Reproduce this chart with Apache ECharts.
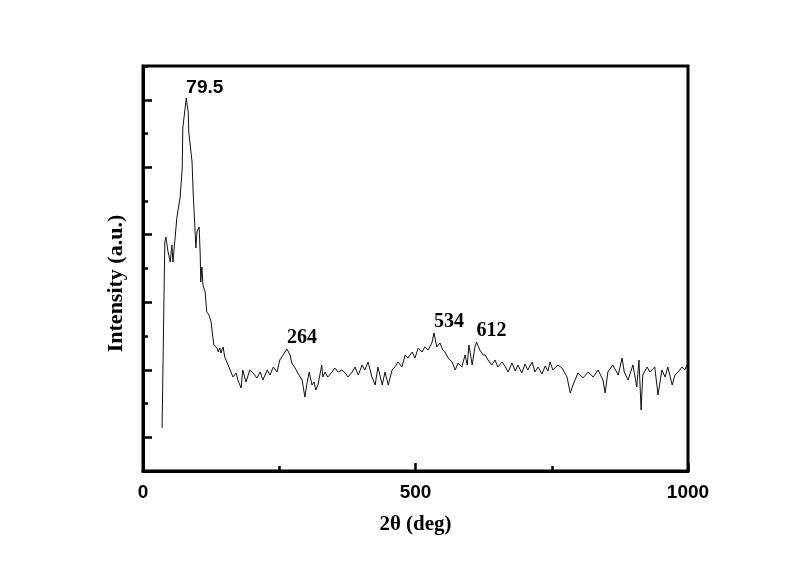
<!DOCTYPE html>
<html>
<head>
<meta charset="utf-8">
<script src="https://cdn.jsdelivr.net/npm/echarts@6/dist/echarts.min.js"></script>
<style>
  html, body { margin: 0; padding: 0; background: #fff; }
  #chart { width: 800px; height: 565px; }
</style>
</head>
<body>
<div id="chart"></div>
<script>
// 2θ positions and intensity (a.u.)
const twoTheta = [
  35, 40, 42, 46, 50, 53, 55, 61, 62, 68, 72, 73, 79.5, 81, 83, 84, 90, 92, 95, 97,
  99, 103, 105, 106, 108, 110, 114, 117, 121, 125, 127, 130, 136, 138, 141, 143, 147, 150, 160, 165,
  171, 174, 180, 183, 189, 196, 202, 209, 215, 220, 228, 233, 239, 246, 251, 257, 264, 270, 273, 279,
  284, 292, 297, 301, 305, 310, 314, 317, 321, 328, 330, 334, 339, 347, 352, 358, 365, 371, 376, 384,
  389, 395, 402, 407, 413, 420, 426, 431, 439, 444, 450, 457, 462, 468, 475, 481, 486, 494, 499, 505,
  512, 517, 523, 530, 534, 539, 545, 550, 554, 560, 567, 573, 578, 585, 591, 595, 598, 604, 609, 612,
  618, 624, 628, 633, 640, 646, 651, 659, 664, 670, 677, 683, 688, 695, 701, 706, 714, 719, 725, 732,
  738, 743, 747, 752, 761, 769, 778, 784, 789, 798, 807, 817, 826, 835, 844, 848, 853, 862, 872, 879,
  883, 890, 899, 906, 910, 914, 917, 925, 930, 939, 945, 952, 958, 963, 971, 976, 982, 989, 994, 998
]
const intensity = [
  43, 229, 234, 219, 209, 226, 209, 246, 253, 273, 303, 343, 373, 366, 359, 339, 309, 279, 246, 223,
  239, 244, 216, 189, 204, 186, 179, 159, 156, 149, 139, 126, 123, 119, 123, 118, 124, 114, 101, 94,
  98, 91, 83, 101, 89, 101, 98, 93, 99, 91, 101, 96, 104, 99, 111, 116, 122, 116, 108, 103,
  98, 91, 74, 88, 99, 86, 89, 81, 86, 106, 94, 99, 94, 99, 103, 99, 101, 98, 94, 99,
  104, 96, 106, 101, 109, 94, 86, 104, 86, 99, 86, 101, 104, 109, 104, 116, 113, 119, 113, 123,
  119, 124, 121, 128, 138, 124, 128, 121, 119, 113, 109, 101, 108, 104, 116, 106, 126, 106, 124, 129,
  121, 116, 116, 111, 106, 111, 104, 109, 105, 99, 108, 100, 106, 98, 107, 101, 109, 99, 104, 97,
  105, 100, 109, 101, 106, 103, 94, 78, 86, 98, 93, 99, 94, 101, 91, 78, 99, 106, 96, 113,
  99, 91, 106, 84, 111, 61, 96, 104, 99, 104, 76, 101, 94, 104, 86, 96, 99, 104, 101, 106
]

// labelled peaks
const peakPos = [79.5, 264, 534, 612]
const peakInt = [373, 122, 138, 129]
const peakText = ['79.5', '264', '534', '612']

const xTicks = ['0', '500', '1000']
const yTickSlots = ['0', '1', '2', '3', '4', '5', '6', '7', '8', '9', '10', '11', '12']

const scan = twoTheta.map((x, i) => [x, intensity[i]])
const peaks = peakPos.map((x, i) => ({
  value: [x, peakInt[i]],
  label: {
    formatter: peakText[i],
    fontFamily: i === 0 ? 'Liberation Sans' : 'Liberation Serif',
    fontSize: i === 0 ? 19 : 20
  }
}))

const chart = echarts.init(document.getElementById('chart'))
const option = {
  animation: false,
  grid: {
    left: 143,
    right: 112,
    top: 66,
    bottom: 94,
    show: true,
    borderColor: '#000',
    borderWidth: 3
  },
  xAxis: {
    type: 'value',
    min: 0,
    max: 1000,
    interval: 500,
    name: '2θ (deg)',
    nameLocation: 'middle',
    nameGap: 43,
    nameTextStyle: {
      fontFamily: 'Liberation Serif',
      fontWeight: 'bold',
      fontSize: 21,
      color: '#000'
    },
    axisLine: { lineStyle: { color: '#000', width: 3 } },
    axisTick: { inside: true, length: 8, lineStyle: { color: '#000', width: 2.5 } },
    minorTick: { show: true, splitNumber: 2, length: 5, lineStyle: { color: '#000', width: 2.5 } },
    splitLine: { show: false },
    axisLabel: {
      margin: 12,
      fontFamily: 'Liberation Sans',
      fontWeight: 'bold',
      fontSize: 19,
      color: '#000',
      formatter: (v) => xTicks[v / 500]
    }
  },
  yAxis: [
    {
      type: 'value',
      min: 0,
      max: 405,
      interval: 33.75,
      name: 'Intensity (a.u.)',
      nameLocation: 'middle',
      nameGap: 16,
      nameTextStyle: {
        fontFamily: 'Liberation Serif',
        fontWeight: 'bold',
        fontSize: 22,
        color: '#000',
        padding: [0, 30, 0, 0]
      },
      axisLine: { show: true, lineStyle: { color: '#000', width: 3 } },
      axisTick: { show: true, inside: true, length: 5, lineStyle: { color: '#000', width: 2.5 } },
      axisLabel: { show: false },
      splitLine: { show: false }
    },
    {
      type: 'category',
      position: 'left',
      data: yTickSlots,
      boundaryGap: false,
      axisLine: { show: false },
      axisTick: {
        show: true,
        inside: true,
        length: 9,
        interval: (index) => index % 2 === 1,
        lineStyle: { color: '#000', width: 2.5 }
      },
      axisLabel: { show: false },
      splitLine: { show: false }
    }
  ],
  series: [
    {
      type: 'line',
      data: scan,
      yAxisIndex: 0,
      symbol: 'none',
      lineStyle: { color: '#111', width: 1 }
    },
    {
      type: 'scatter',
      data: peaks,
      yAxisIndex: 0,
      symbolSize: 0,
      itemStyle: { color: '#000' },
      label: {
        show: true,
        position: [0, -1],
        align: 'left',
        verticalAlign: 'bottom',
        fontWeight: 'bold',
        color: '#000',
        textBorderWidth: 0,
        opacity: 1
      }
    }
  ]
}
chart.setOption(option)
</script>
</body>
</html>
